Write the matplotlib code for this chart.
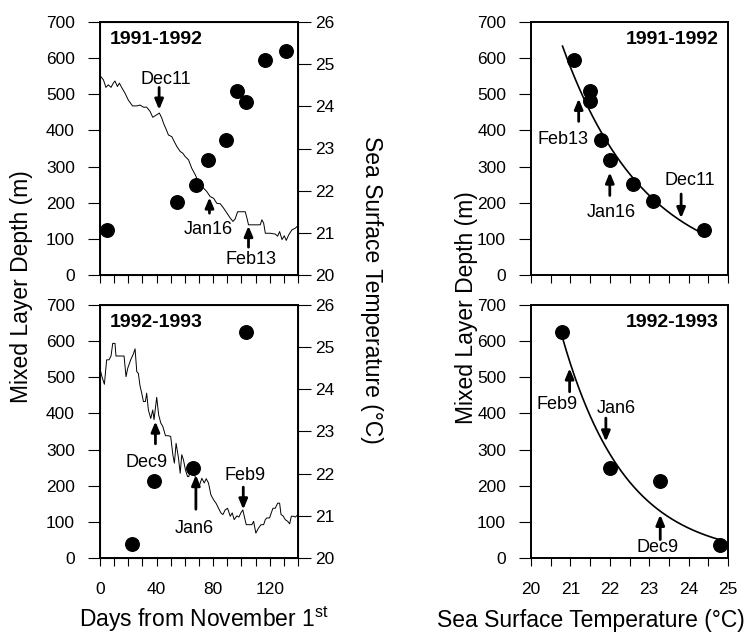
import numpy as np
import matplotlib
matplotlib.use("Agg")
import matplotlib.pyplot as plt

plt.rcParams['font.family'] = ['Liberation Sans', 'DejaVu Sans']
plt.rcParams['mathtext.fontset'] = 'custom'
plt.rcParams['mathtext.rm'] = 'Liberation Sans'

# mixed layer depth (m) vs days from Nov 1
mld_day_92 = [5.2, 54.3, 68, 76.5, 88.8, 96.6, 103, 116.4, 131.5]
mld_92 = [125, 203, 248, 317, 374, 509, 480, 595, 621]
mld_day_93 = [22.4, 38.2, 66, 103.4]
mld_93 = [39, 214, 250, 624]

# daily SST (deg C)
sst_day_92 = [0.7, 2.4, 4.2, 5.9, 7.8, 9.4, 10.6, 12.3, 13.7, 15.3, 17.7, 20, 23, 26,
              28.3, 30.7, 33, 35.4, 37.3, 40.1, 42, 43.7, 44.9, 46.7, 48.4, 50.8, 52.4,
              54.3, 56.7, 58.5, 60.2, 62.6, 64.9, 67.3, 68.9, 70.8, 73.2, 75.5, 77.9,
              80.3, 82.6, 85, 87.3, 89.7, 92.1, 94, 95.6, 97.3, 99.6, 102.7, 103.9, 105,
              108.6, 113.3, 114.5, 115.7, 116.9, 120.4, 124, 125.6, 127, 128.7, 130.3,
              131.7, 133.4, 135.7, 138.1, 140]
sst_92 = [24.70, 24.63, 24.45, 24.51, 24.45, 24.55, 24.60, 24.47, 24.55, 24.45, 24.31,
          24.15, 24.01, 24.01, 24.03, 23.98, 23.98, 23.88, 23.74, 23.80, 23.84, 23.72,
          23.60, 23.46, 23.32, 23.28, 23.17, 23.05, 22.93, 22.89, 22.81, 22.73, 22.53,
          22.38, 22.26, 22.18, 22.06, 21.98, 21.86, 21.82, 21.70, 21.69, 21.59, 21.47,
          21.35, 21.27, 21.33, 21.50, 21.50, 21.50, 21.35, 21.19, 21.19, 21.19, 21.31,
          21.23, 20.99, 20.99, 20.97, 20.92, 21.03, 20.84, 20.93, 20.82, 20.95, 21.07,
          21.11, 21.17]
sst_day_93 = [0, 1.4, 3.1, 4.7, 6.4, 7.8, 9, 10.6, 11.3, 14.2, 17, 18.4, 19.6, 21.7,
              23.6, 24.8, 26, 27.1, 28.3, 29.5, 30.7, 32.1, 33, 34.2, 35.9, 37.3, 38.2,
              40.1, 41.5, 43, 44.4, 46.3, 48.4, 50, 51.5, 52.6, 53.8, 55.5, 56.7, 57.8,
              59, 60.4, 61.9, 62.8, 63.7, 65.6, 67.3, 68.9, 70.1, 72, 73.7, 75.1, 76.7,
              78.4, 80.3, 82.2, 83.8, 85.5, 86.9, 88.5, 90.2, 92.1, 93.5, 94.9, 96.8,
              98.2, 99.6, 101, 102, 103.4, 106.2, 107.4, 108.6, 110.2, 112.1, 113.8,
              115.7, 116.9, 118, 119.9, 121.1, 122.3, 123.9, 125.6, 127, 128, 129.4, 131,
              132.7, 134.1, 135.3, 136.9, 138.1, 140]
sst_93 = [24.48, 24.30, 24.12, 24.70, 24.70, 24.79, 25.09, 25.09, 24.79, 24.79, 24.79,
          24.30, 24.50, 24.70, 24.84, 24.96, 24.42, 24.38, 24.08, 23.91, 23.71, 23.71,
          23.91, 23.51, 23.31, 23.51, 23.28, 23.81, 23.39, 23.20, 23.12, 22.90, 22.90,
          22.88, 22.45, 22.25, 22.72, 22.37, 22.01, 22.45, 22.33, 22.09, 21.93, 21.93,
          22.09, 22.05, 21.93, 21.78, 21.70, 21.89, 21.78, 21.88, 21.78, 21.50, 21.38,
          21.29, 21.18, 21.07, 21.03, 21.14, 21.18, 20.99, 21.07, 20.91, 21.00, 20.97,
          21.07, 21.14, 20.99, 20.79, 20.79, 20.79, 20.87, 20.59, 20.71, 20.79, 20.79,
          20.91, 20.95, 20.95, 21.07, 21.18, 21.18, 21.30, 21.30, 21.03, 21.00, 20.91,
          20.87, 20.81, 20.99, 20.99, 20.97, 21.03]

# mixed layer depth vs SST
ts_sst_92 = [21.08, 21.49, 21.49, 21.78, 22.0, 22.6, 23.1, 24.38]
ts_mld_92 = [595, 510, 481, 374, 317, 251, 204, 125]
ts_sst_93 = [20.79, 22.0, 23.28, 24.79]
ts_mld_93 = [624, 250, 214, 37]
fit_range_92 = (20.8, 24.4)
fit_range_93 = (20.8, 24.8)

# arrows: label, x, tail y, tip y, label x, label y
notes_tl = [("Dec11", 41.8, 519, 457, 46.3, 542),
            ("Jan16", 77.4, 171, 215, 76.7, 125),
            ("Feb13", 105, 77, 136, 106.7, 42)]
notes_bl = [("Dec9", 39.2, 316, 378, 33, 264),
            ("Jan6", 67.8, 135, 230, 66.8, 83),
            ("Feb9", 101.3, 196, 134, 102.7, 228)]
notes_tr = [("Feb13", 21.21, 425, 488, 20.81, 376),
            ("Jan16", 22.0, 220, 284, 22.04, 174),
            ("Dec11", 23.81, 224, 157, 24.04, 262)]
notes_br = [("Feb9", 20.98, 460, 525, 20.66, 425),
            ("Jan6", 21.9, 387, 322, 22.17, 413),
            ("Dec9", 23.28, 51, 120, 23.22, 28)]

W, H = 747, 633
fig = plt.figure(figsize=(W / 100, H / 100), dpi=100)


def box(x0, y0, x1, y1):
    return [x0 / W, 1 - y1 / H, (x1 - x0) / W, (y1 - y0) / H]


TS = 12.5


def style(ax, xlim, major, minor, labels):
    ax.set_ylim(0, 700)
    ax.set_yticks(range(0, 701, 100))
    ax.set_xlim(*xlim)
    ax.set_xticks(major)
    ax.set_xticks(minor, minor=True)
    ax.tick_params(axis='x', which='both', direction='out', length=6, width=0.8,
                   top=False, labelsize=TS, pad=11, labelbottom=labels)
    ax.tick_params(axis='y', direction='out', length=9, width=0.8, right=False,
                   labelsize=TS, pad=9)
    for s in ax.spines.values():
        s.set_linewidth(1.4)


def notes(ax, items):
    for lab, x, y0, y1, tx, ty in items:
        ax.annotate('', xy=(x, y1), xytext=(x, y0),
                    arrowprops=dict(arrowstyle='-|>,head_length=0.6,head_width=0.25',
                                    lw=2, color='k', shrinkA=0, shrinkB=0))
        ax.text(tx, ty, lab, ha='center', va='center', fontsize=13)


def expfit(x, y, rng, p):
    # exponential fit, residuals weighted by y**-p
    x = np.asarray(x)
    y = np.asarray(y, float)
    w = y ** (-2 * p)
    best = None
    for b in np.linspace(-1.5, -0.1, 1401):
        e = np.exp(b * (x - 20))
        a = (w * y * e).sum() / (w * e * e).sum()
        r = (w * (y - a * e) ** 2).sum()
        if best is None or r < best[0]:
            best = (r, a, b)
    xx = np.linspace(rng[0], rng[1], 200)
    return xx, best[1] * np.exp(best[2] * (xx - 20))


day_major = [0, 40, 80, 120]
day_minor = range(0, 141, 10)
t_major = [20, 21, 22, 23, 24, 25]
t_minor = np.arange(20, 25.01, 0.5)

panels = [
    (box(100, 22, 298, 275), "1991-1992", mld_day_92, mld_92, sst_day_92, sst_92, notes_tl, False),
    (box(100, 305, 298, 558), "1992-1993", mld_day_93, mld_93, sst_day_93, sst_93, notes_bl, True),
]
for rect, title, dx, dy, sx, sy, nt, lab in panels:
    ax = fig.add_axes(rect)
    ax2 = ax.twinx()
    ax2.plot(sx, sy, color='k', lw=0.7)
    ax2.set_ylim(20, 26)
    ax2.set_yticks(range(20, 27))
    ax2.tick_params(axis='y', direction='out', length=9, width=0.8, labelsize=TS, pad=3)
    ax.scatter(dx, dy, s=95, color='k', zorder=3)
    style(ax, (0, 140), day_major, day_minor, lab)
    ax.set_zorder(ax2.get_zorder() + 1)
    ax.patch.set_visible(False)
    notes(ax, nt)
    ax.text(0.05, 0.93, title, transform=ax.transAxes, fontsize=14, fontweight='bold',
            ha='left', va='center')

panels = [
    (box(531, 22, 728, 275), "1991-1992", ts_sst_92, ts_mld_92, fit_range_92, 1.0, notes_tr, False),
    (box(531, 305, 728, 558), "1992-1993", ts_sst_93, ts_mld_93, fit_range_93, 0.5, notes_br, True),
]
for rect, title, x, y, rng, p, nt, lab in panels:
    ax = fig.add_axes(rect)
    xx, yy = expfit(x, y, rng, p)
    ax.plot(xx, yy, color='k', lw=1.2)
    ax.scatter(x, y, s=95, color='k', zorder=3)
    style(ax, (20, 25), t_major, t_minor, lab)
    notes(ax, nt)
    ax.text(0.95, 0.93, title, transform=ax.transAxes, fontsize=14, fontweight='bold',
            ha='right', va='center')

LS = 16.5
fig.text(22 / W, 1 - 287 / H, "Mixed Layer Depth (m)", rotation=90, ha='center', va='center', fontsize=LS)
fig.text(372 / W, 1 - 290 / H, "Sea Surface Temperature (°C)", rotation=270, ha='center', va='center', fontsize=LS)
fig.text(466 / W, 1 - 308 / H, "Mixed Layer Depth (m)", rotation=90, ha='center', va='center', fontsize=LS)
fig.text(204 / W, 1 - 619 / H, r"Days from November 1$^{\mathrm{st}}$", ha='center', va='center', fontsize=LS)
fig.text(591 / W, 1 - 620 / H, "Sea Surface Temperature (°C)", ha='center', va='center', fontsize=LS)

fig.savefig("out.png", dpi=100)
